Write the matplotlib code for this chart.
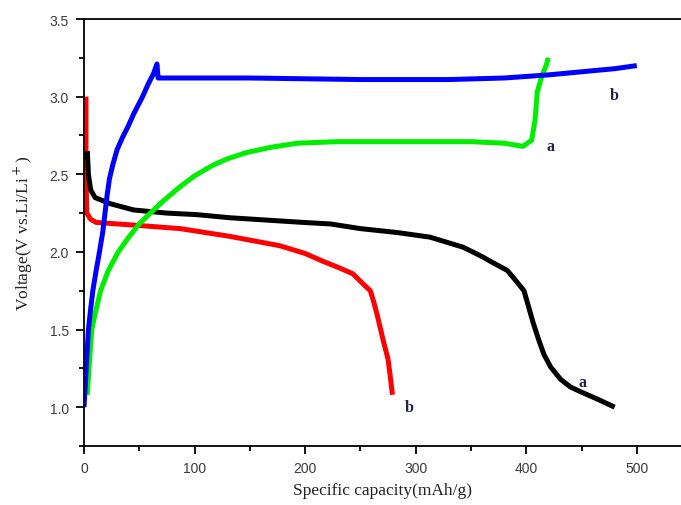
import numpy as np
import matplotlib
matplotlib.use("Agg")
import matplotlib.pyplot as plt
from matplotlib.ticker import MultipleLocator

# ── DATA ──────────────────────────────────────────────────────────────────────
# b : charge (blue) / discharge (red)
blue_cap = [0, 1, 2, 4, 6, 8, 11, 14, 17, 19, 21, 23, 26, 30, 35, 40, 45, 53, 58, 63, 66, 67,
            70, 150, 250, 330, 380, 420, 450, 480, 500]
blue_v   = [1.0, 1.12, 1.25, 1.5, 1.63, 1.75, 1.88, 2.0, 2.13, 2.25, 2.37, 2.47, 2.56, 2.66, 2.74,
            2.81, 2.89, 3.0, 3.08, 3.15, 3.21, 3.12,
            3.12, 3.12, 3.11, 3.11, 3.12, 3.14, 3.16, 3.18, 3.2]

red_cap = [1.8, 1.8, 2.5, 6, 11, 50, 87, 132, 177, 200, 216, 230, 243, 253, 259, 262, 265, 268,
           271, 275, 277, 279]
red_v   = [3.0, 2.5, 2.25, 2.21, 2.19, 2.17, 2.15, 2.10, 2.04, 1.99, 1.94, 1.90, 1.86, 1.79, 1.75,
           1.68, 1.60, 1.51, 1.42, 1.31, 1.20, 1.08]

# a : charge (green) / discharge (black)
green_cap = [3, 5, 7, 10, 15, 22, 31, 40, 50, 60, 72, 87, 100, 117, 130, 147, 170, 193, 229, 300,
             350, 380, 397, 405, 408, 410, 414, 418, 420]
green_v   = [1.08, 1.3, 1.5, 1.6, 1.75, 1.88, 2.0, 2.09, 2.18, 2.25, 2.33, 2.42, 2.49, 2.56, 2.60,
             2.64, 2.675, 2.70, 2.71, 2.71, 2.71, 2.70, 2.68, 2.72, 2.85, 3.03, 3.13, 3.2, 3.25]

black_cap = [3, 4, 6, 10, 24, 45, 75, 102, 132, 198, 223, 250, 283, 313, 343, 360, 370, 383, 390,
             398, 402, 406, 411, 416, 422, 431, 440, 449, 465, 480]
black_v   = [2.65, 2.5, 2.4, 2.35, 2.31, 2.27, 2.25, 2.24, 2.22, 2.19, 2.18, 2.15, 2.125, 2.095,
             2.03, 1.97, 1.93, 1.88, 1.82, 1.75, 1.65, 1.55, 1.44, 1.34, 1.26, 1.18, 1.13, 1.10,
             1.05, 1.0]

labels = [("b", 480, 3.01), ("a", 422, 2.68), ("b", 294, 1.0), ("a", 451, 1.16)]

# ── PLOT ──────────────────────────────────────────────────────────────────────
fig = plt.figure(figsize=(6.81, 5.06), dpi=100)
ax = fig.add_axes([84 / 681, 59 / 506, 597 / 681, 427 / 506])

lw = 3.6
kw = dict(lw=lw, solid_joinstyle="round", solid_capstyle="butt")
ax.plot(red_cap, red_v, color="#ff0000", **kw)
ax.plot(black_cap, black_v, color="#000000", **kw)
ax.plot(green_cap, green_v, color="#00ee00", **kw)
ax.plot(blue_cap, blue_v, color="#0000ff", **kw)

for txt, x, y in labels:
    ax.text(x, y, txt, family="Liberation Serif", fontsize=11.5, fontweight="bold",
            color="#222244", ha="center", va="center")

ax.set_xlim(0, 540)
ax.set_ylim(0.75, 3.5)
ax.xaxis.set_major_locator(MultipleLocator(100))
ax.xaxis.set_minor_locator(MultipleLocator(50))
ax.yaxis.set_minor_locator(MultipleLocator(0.25))
ax.set_yticks([1.0, 1.5, 2.0, 2.5, 3.0, 3.5])
ax.yaxis.set_major_formatter(plt.FuncFormatter(lambda v, p: f"{v:.1f}"))

ax.tick_params(which="major", direction="out", length=6, width=1.3,
               labelsize=10, labelcolor="#3a3a44", pad=5)
ax.tick_params(which="minor", direction="out", length=3.5, width=1.3)
ax.tick_params(top=False, right=False)
for lab in ax.get_xticklabels() + ax.get_yticklabels():
    lab.set_family("Liberation Sans")
for s in ax.spines.values():
    s.set_linewidth(1.3)
ax.spines["right"].set_visible(False)

ax.set_xlabel("Specific capacity(mAh/g)", family="Liberation Serif", fontsize=12.5,
              labelpad=5, color="#222222")
ax.set_ylabel("Voltage(V vs.Li/Li$^+$)", family="Liberation Serif", fontsize=12.5,
              labelpad=10, color="#222222")

fig.savefig("out.png", dpi=100)
